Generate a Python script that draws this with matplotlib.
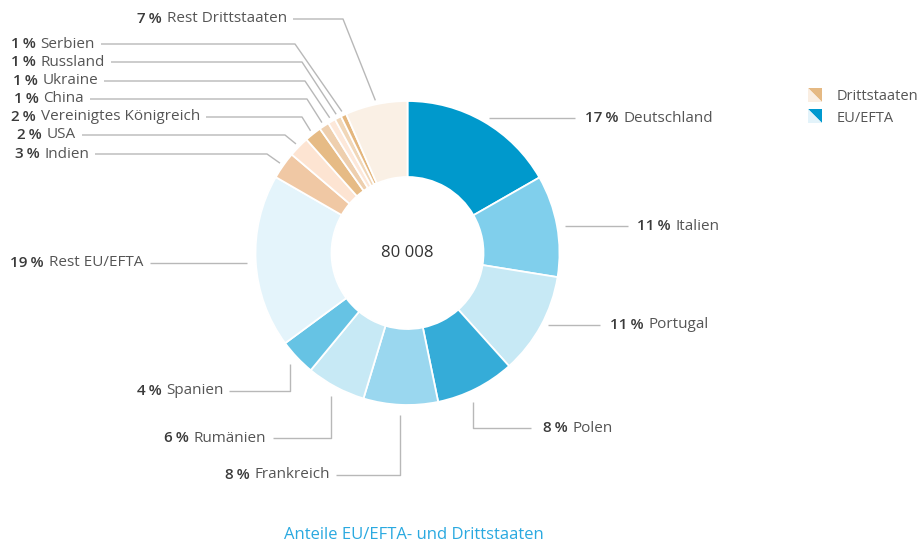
import matplotlib
matplotlib.use('Agg')
import matplotlib.pyplot as plt
import numpy as np
from matplotlib.patches import Polygon

plt.rcParams['font.family'] = ['Open Sans', 'DejaVu Sans']

# data (clockwise from 12 o'clock)
countries = ['Deutschland', 'Italien', 'Portugal', 'Polen', 'Frankreich', 'Rumänien', 'Spanien',
             'Rest EU/EFTA', 'Indien', 'USA', 'Vereinigtes Königreich', 'China', 'Ukraine',
             'Russland', 'Serbien', 'Rest Drittstaaten']
shares = [16.7, 10.8, 10.8, 8.4, 7.9, 6.3, 3.9, 18.4, 2.9, 2.2, 1.8, 1.06, 0.8, 0.7, 0.6, 6.6]
labels_pct = [17, 11, 11, 8, 8, 6, 4, 19, 3, 2, 2, 1, 1, 1, 1, 7]
colors = ['#0099cc', '#80cfec', '#c7e9f5', '#35acd8', '#9ad7ef', '#c7e9f5', '#66c3e4', '#e4f4fb',
          '#f0c8a4', '#fde4d2', '#e6bb85', '#eecfae', '#fde8d9', '#f1d7b8', '#e4b67d', '#faf0e5']
total = '80 008'
title = 'Anteile EU/EFTA- und Drittstaaten'
legend_names = ['Drittstaaten', 'EU/EFTA']
legend_colors = [('#e5b983', '#faeee2'), ('#0099cf', '#e3f3fa')]

W, H = 922, 544
fig = plt.figure(figsize=(W / 100, H / 100), dpi=100)
ax = fig.add_axes([0, 0, 1, 1])

cx, cy, R = 407.5, H - 253, 152
wedges, _ = ax.pie(shares, colors=colors, startangle=90, counterclock=False, radius=R,
                   center=(cx, cy), wedgeprops=dict(width=76, edgecolor='white', linewidth=1.3))
ax.set_xlim(0, W)
ax.set_ylim(0, H)
ax.set_aspect('equal')
ax.axis('off')

ax.text(cx, cy, total, ha='center', va='center', fontsize=12, color='#333333')

line_kw = dict(color='#b8b8b8', lw=1, solid_capstyle='butt')
pct_kw = dict(fontsize=11, color='#3a3a3a', fontweight='semibold')
name_kw = dict(fontsize=11, color='#555555')


def anchor(w, r):
    a = np.deg2rad((w.theta1 + w.theta2) / 2)
    return cx + r * np.cos(a), cy + r * np.sin(a)


def label_left(x, y, pct, name):
    # text starting at x (label right of chart)
    t = ax.text(x, y, f'{pct}\u2009%', ha='left', va='center', **pct_kw)
    ax.annotate(name, xy=(1, 0.5), xycoords=t, xytext=(3.5, 0), textcoords='offset points',
                ha='left', va='center', **name_kw)


def label_right(x, y, pct, name):
    # text ending at x (label left of chart)
    t = ax.text(x, y, name, ha='right', va='center', **name_kw)
    ax.annotate(f'{pct}\u2009%', xy=(0, 0.5), xycoords=t, xytext=(-3.5, 0), textcoords='offset points',
                ha='right', va='center', **pct_kw)


# right side, horizontal leaders: (index, label y, line end x, text x)
right_h = [(0, 118, 575, 585), (1, 226, 628, 637), (2, 325, 600, 610)]
for i, ly, lx, tx in right_h:
    ax0, _ = anchor(wedges[i], 158)
    ax.plot([ax0 + 2, lx], [H - ly, H - ly], **line_kw)
    label_left(tx, H - ly, labels_pct[i], countries[i])

# Polen, elbow leader
px, py = anchor(wedges[3], 162)
ax.plot([px - 8, px - 8, 531], [py - 4, H - 428, H - 428], **line_kw)
label_left(543, H - 428, labels_pct[3], countries[3])

# bottom left, elbow leaders: (index, label y, line start x, text right x)
left_elbow = [(4, 475, 336, 330), (5, 438, 273, 266), (6, 391, 229, 224)]
for i, ly, lx, tx in left_elbow:
    ex, ey = anchor(wedges[i], 162)
    ax.plot([lx, ex, ex], [H - ly, H - ly, ey], **line_kw)
    label_right(tx, H - ly, labels_pct[i], countries[i])

# Rest EU/EFTA
ax.plot([150, 247], [H - 263, H - 263], **line_kw)
label_right(143, H - 263, labels_pct[7], countries[7])

# third countries, bent leaders: (index, label y, line start x, bend x)
left_bent = [(8, 154, 95, 267), (9, 135, 82, 285), (10, 117, 206, 302), (11, 99, 90, 307),
             (12, 81, 104, 305), (13, 62, 111, 302), (14, 44, 101, 295), (15, 19, 293, 343)]
for i, ly, sx, bx in left_bent:
    ex, ey = anchor(wedges[i], 156)
    ax.plot([sx, bx, ex], [H - ly, H - ly, ey], **line_kw)
    label_right(sx - 6, H - ly, labels_pct[i], countries[i])

# legend with split swatches
for k, (name, (dark, light)) in enumerate(zip(legend_names, legend_colors)):
    top = H - (88 + 21 * k)
    x0, s = 808, 14
    ax.add_patch(Polygon([(x0, top), (x0 + s, top), (x0 + s, top - s)], closed=True,
                         facecolor=dark, edgecolor='none'))
    ax.add_patch(Polygon([(x0, top), (x0, top - s), (x0 + s, top - s)], closed=True,
                         facecolor=light, edgecolor='none'))
    ax.text(837, top - s / 2 - 2, name, ha='left', va='center', fontsize=10.5, color='#555555')

ax.text(414, H - 535, title, ha='center', va='center', fontsize=12, color='#2aa9e0')

fig.savefig('out.png', dpi=100)
